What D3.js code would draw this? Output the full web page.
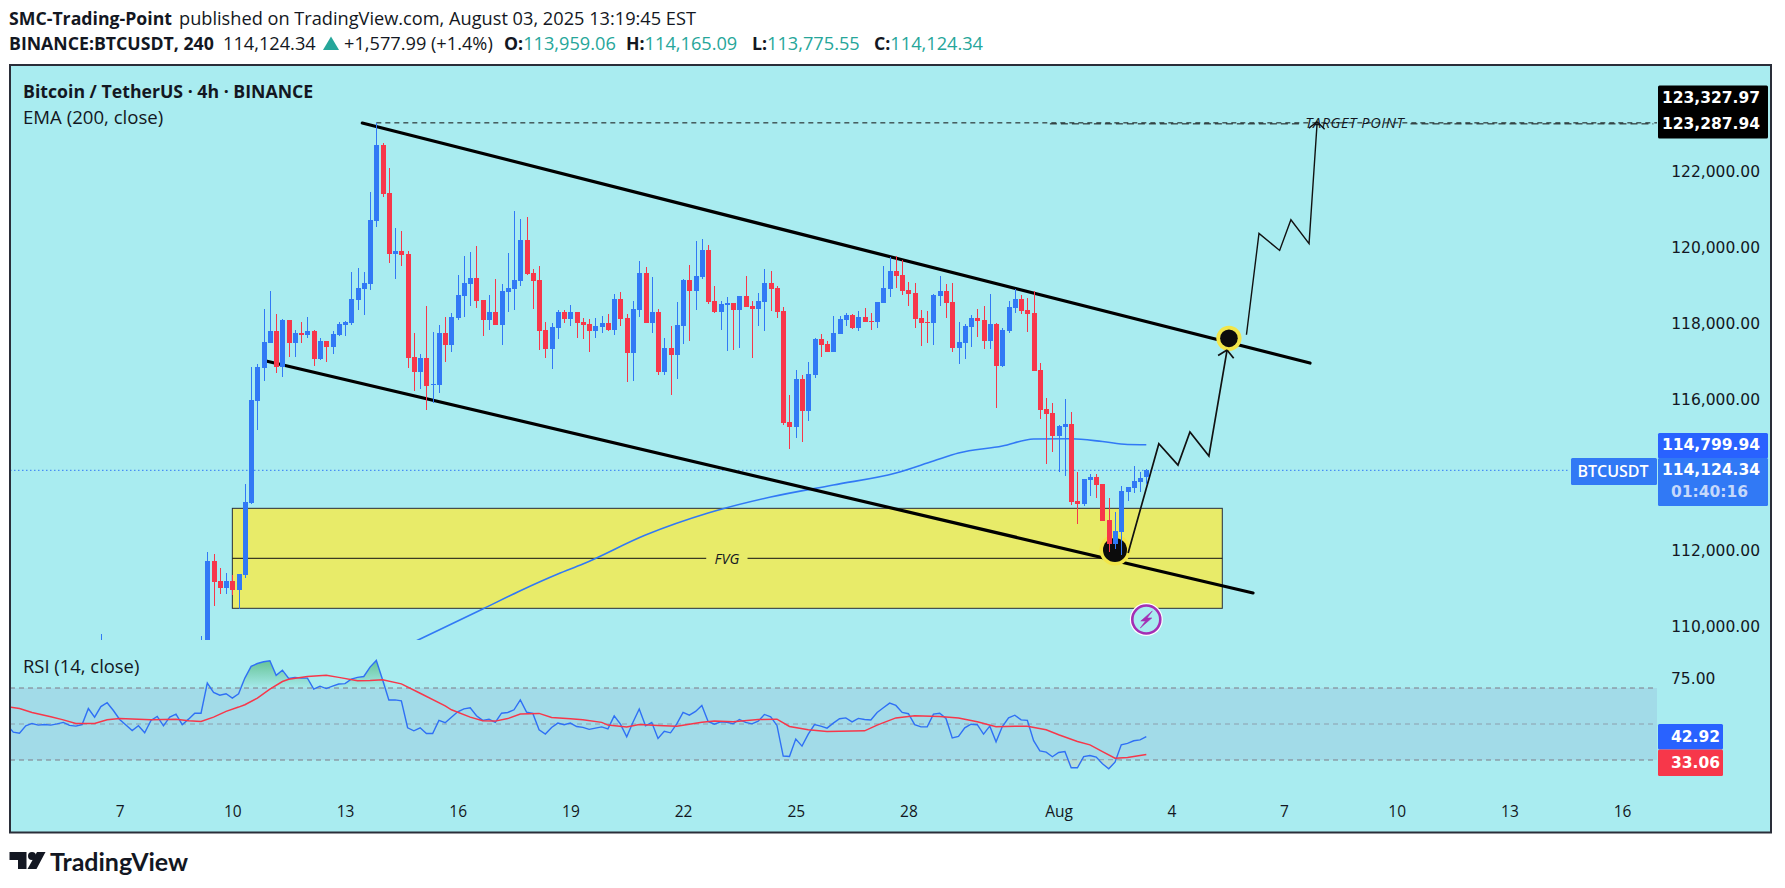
<!DOCTYPE html>
<html>
<head>
<meta charset="utf-8">
<title>BTCUSDT 4h</title>
<script src="https://cdn.jsdelivr.net/npm/d3@7"></script>
<style>
  html, body { margin: 0; padding: 0; background: #fff; overflow: hidden; }
  svg { display: block; }
  text { font-family: "Open Sans", "Noto Sans", sans-serif; fill: #131722; }
  .axis text { font-family: "DejaVu Sans", sans-serif; }
  .axis path, .axis line { display: none; }
</style>
</head>
<body>
<svg id="chart" width="1785" height="888"></svg>
<script>
// ─── Data: candles, one entry per 4h bar ──────────────────────────────────────
const opens = [
  109120,111730,111200,111020,111200,110970,111360,113260,115950,116820,
  117480,117800,116850,118090,117480,117750,117690,117800,117060,117530,
  117380,117690,117960,118010,118620,118900,119040,120700,122700,121440,
  119830,119910,119830,117110,116720,117090,116370,116370,117750,117430,
  118140,118720,119040,119200,118620,118090,118300,117960,118830,118900,
  119120,120200,119330,119140,117820,117320,117880,118300,118110,118300,
  118040,117980,117800,117900,118010,117820,118640,118140,117220,118350,
  119330,118010,118300,116720,117350,117170,117930,119140,118850,119220,
  119930,118590,118300,118480,118540,118350,118720,118460,118380,118560,
  119060,118930,118330,115400,115270,116530,115690,116640,117590,117450,
  117240,117720,118090,118220,117880,118170,118060,118040,118540,118900,
  119380,119270,118880,118800,118140,118040,118010,118720,118850,118560,
  117350,117480,117900,118140,118090,117530,117980,116880,117800,118400,
  118640,118350,118270,116770,115740,115640,115030,115270,115350,113320,
  113240,113870,113950,113760,112810,112180,112500,113550,113660,113820,
  113959.06
];
const highs = [
  111970,111920,111550,111420,111360,111390,113760,116850,116930,118380,
  118850,118250,118110,118090,117820,118040,118170,117820,117610,117530,
  117800,118040,118060,119350,119460,119350,121460,123288,122760,122100,
  120510,120430,119910,117750,117190,118460,117770,117960,118170,118270,
  119270,119780,119880,120040,118620,118750,119170,119040,119850,120960,
  120750,120800,119430,119510,118040,118010,118350,118350,118480,118300,
  118140,118110,118140,118190,118250,118770,118830,118250,118590,119640,
  119490,119220,118380,117610,117930,118560,119170,119540,120170,120220,
  120070,118980,118590,118690,118540,118720,119250,118590,118800,119430,
  119380,118980,118430,116110,116770,116640,116980,117610,117720,117530,
  118190,118190,118270,118250,118330,118400,118270,118560,119510,119750,
  119780,119670,119090,119060,118350,118330,118770,119250,119040,119060,
  118040,117980,118220,118380,118460,118770,118010,117880,118590,118910,
  118750,118670,118850,116950,116030,115900,115320,116010,115660,114080,
  113900,114030,114030,113760,113390,113030,113710,113680,114240,114080,
  114165.09
];
const lows = [
  108990,110540,110860,110860,110840,110480,111280,113240,115190,116480,
  117480,116690,116580,117110,117110,117480,117610,116870,117030,116980,
  117190,117670,117670,117960,118350,118220,118880,120540,121330,119590,
  119170,119510,116820,116220,116270,115710,115900,116160,116980,117240,
  118090,118170,118460,118400,117670,117820,117960,117430,118300,118350,
  118980,119270,118380,117300,117090,116800,117590,118010,117930,117610,
  117590,117240,117610,117750,117800,117690,117930,116450,116480,118170,
  118010,117750,116640,116640,116110,116530,117460,117530,118350,119170,
  118510,118270,117820,117270,117300,117350,118430,117090,117930,117800,
  118330,118140,115320,114690,114980,114870,115420,116560,117110,117240,
  117240,117720,117930,117850,117800,118040,117820,117880,118540,118690,
  118930,118750,118460,117880,117400,117480,117430,118460,118140,117240,
  116930,117060,117380,117640,117320,117320,115770,116850,117750,118270,
  118250,117770,116740,115480,114290,114610,114080,113970,113210,112710,
  113180,113450,113390,112790,111970,112050,111890,113320,113530,113550,
  113775.55
];
const closes = [
  111730,111180,111020,111200,110970,111390,113290,115980,116850,117510,
  117800,116850,118090,117480,117750,117690,117800,117060,117530,117380,
  117720,117980,118040,118640,118930,119060,120730,122700,121410,119830,
  119910,119800,117090,116720,117090,116350,116400,117750,117430,118170,
  118750,119060,119200,118590,118090,118300,117960,118850,118930,119140,
  120200,119300,119120,117800,117320,117900,118300,118110,118300,118010,
  117960,117800,117930,118010,117820,118640,118110,117220,118380,119330,
  118010,118300,116720,117350,117170,117960,119140,118850,119250,119930,
  118560,118300,118510,118540,118350,118720,118430,118380,118590,119060,
  118900,118300,115370,115270,116530,115690,116660,117590,117430,117240,
  117750,118110,118220,117880,118170,118040,118040,118560,118930,119380,
  119250,118850,118770,118110,118010,118010,118750,118850,118540,117350,
  117510,117930,118140,118060,117530,117980,116880,117820,118430,118640,
  118330,118250,116740,115720,115610,115030,115290,115350,113290,113240,
  113900,113950,113740,112790,112180,112520,113580,113680,113840,113920,
  114124.34
];

// Bars that only poke their upper wick into the bottom of the price pane
const stubBars  = [-17,-1];
const stubHighs = [109800,109755];

// EMA(200): bar index / price pairs
const emaBars   = [30,34,44,50,56,60,70,80,90,100,110,116,120,127,132,138,143,147,150];
const emaPrices = [109360,109676,110467,110949,111390,111653,112418,112998,113420,113737,114054,114370,114580,114765,114950,114958,114884,114805,114799.94];

// RSI(14): the first value belongs to bar -32, the pane shows bars the price pane has scrolled past
const rsiFirstBar = -32;
const rsiValues = [
  49.6,45.5,44.9,49.0,50.3,49.4,49.7,49.4,50.1,50.9,49.2,48.8,49.7,58.6,53.8,59.7,61.8,57.5,52.5,49.4,
  46.4,49.0,45.1,52.0,54.2,49.0,53.8,55.5,49.6,52.7,56.0,56.0,
  72.7,67.5,66.0,66.8,64.4,66.8,75.5,82.0,83.6,84.6,85.1,77.0,79.9,75.3,75.9,75.5,75.5,69.4,71.0,69.7,
  71.0,72.2,72.4,74.9,75.9,76.4,81.6,85.3,74.6,63.3,63.4,62.9,47.9,46.2,47.9,44.7,44.7,52.0,50.7,53.8,
  56.8,58.4,59.0,54.6,52.0,52.7,50.9,56.0,56.4,57.9,63.4,56.6,55.9,46.8,44.4,48.1,50.5,49.6,50.5,48.6,
  48.1,47.0,47.7,48.4,47.3,54.5,49.9,42.9,51.0,58.3,49.0,50.8,42.0,45.9,45.1,50.1,56.4,54.9,57.0,60.3,
  51.4,49.9,51.2,51.0,50.1,52.5,50.9,50.1,51.6,55.3,54.0,49.2,32.2,32.0,41.6,37.7,44.4,49.7,48.8,47.7,
  50.5,52.9,53.4,51.2,53.1,52.5,52.2,56.4,59.0,61.6,60.3,56.4,55.7,49.6,48.4,48.4,55.5,56.0,53.1,42.3,
  43.1,47.9,49.9,49.6,44.4,48.8,40.1,48.6,53.4,54.9,52.3,52.0,40.7,35.1,34.4,31.8,34.2,34.7,25.7,25.7,
  31.9,32.5,31.6,27.9,25.1,28.8,38.4,39.2,40.7,41.2,42.92
];
// RSI moving average: bar index / value pairs
const rsiMaBars = [-32,-30,-28,-25,-23,-21,-18,-16,-14,-11,-9,-5,-3,-1,1,3,5,6,8,10,12,13,16,19,21,24,26,28,31,34,38,39,42,44,46,48,50,53,55,58,60,63,64,67,69,72,75,79,81,84,88,91,93,96,99,105,107,110,113,117,120,123,126,129,131,134,136,139,141,143,145,147,150];
const rsiMaVals = [59.6,58.6,56.4,54,52.3,50.3,50.3,52.3,53.1,52.7,52.3,52.7,51.8,51.4,53.8,57,59.4,60.7,64.4,69.4,73.6,74.9,76.4,77.1,75.9,74,74.2,74.6,72.3,67.1,60.1,57.9,53.8,51.8,51.6,53,55.5,55.9,53.6,52.9,52.3,50.9,49.4,48.4,49.7,49.2,48.8,51,51.6,51.2,52.5,52.7,48.6,46.8,45.9,46.2,49.4,53.4,54.6,54.2,53.3,51.2,48.5,48.8,48.7,46.8,44,40.3,38.4,34.7,31,31.4,33.06];

// Price axis and time axis labels
const priceTicks = [110000,112000,116000,118000,120000,122000];
const timeTickBars = [-14,4,22,40,58,76,94,112,136,154,172,190,208,226];
const timeTickLabels = ["7","10","13","16","19","22","25","28","Aug","4","7","10","13","16"];

// Drawings on the chart, as bar index / price pairs
const channelUpper = [[24.76,123283],[176.15,116954]];
const channelLower = [[9.38,117006],[167.05,110889]];
const projectionFirst  = [[147.1,111943],[152,114826],[155.06,114264],[156.97,115134],[160,114501],[162.9,117297]];
const projectionSecond = [[166,117700],[168,120371],[171.3,119923],[173.1,120733],[176,120102],[177.3,123317]];
const dotLower = [145,112022];
const dotUpper = [163.2,117605];
const fvgBars = [4,162.14];
const fvgPrices = [113122,111804,110485];
const targetPrice = 123287.94;
const lastPrice = 114124.34;
const emaLast = 114799.94;
const rsiLast = 42.92;
const rsiMaLast = 33.06;
const rsiLevels = [70,50,30];

// ─── Configuration ────────────────────────────────────────────────────────────
const CONFIG = {
  frame: { left: 10, top: 65, right: 1771, bottom: 832.5 },
  pricePaneBottom: 640,
  axisLeft: 1657,
  labelRight: 1760,
  colors: {
    pane: "#a9ecf0",
    border: "#2a2e39",
    up: "#3179f5",
    down: "#f7374a",
    accent: "#2962ff",
    band: "#a2dbe8",
    fvg: "#e8eb69",
    teal: "#26a69a",
    dash: "#7e7a86",
    ring: "#f2e64a",
    bolt: "#a32fb4"
  }
};
const C = CONFIG.colors;

// ─── Scales ───────────────────────────────────────────────────────────────────
const x = d3.scaleLinear().domain([0, 150]).range([207.3, 1146.3]);
const y = d3.scaleLinear().domain([110000, 122000]).range([626.7, 171.7]);
const yRsi = d3.scaleLinear().domain([30, 70]).range([760, 688]);

const svg = d3.select("#chart");
const defs = svg.append("defs");

// ─── Small helpers ────────────────────────────────────────────────────────────
function label(parent, px, py, str, opts = {}) {
  return parent.append("text")
    .attr("x", px).attr("y", py)
    .attr("text-anchor", opts.anchor || "start")
    .attr("dominant-baseline", "central")
    .style("font-size", `${opts.size || 15.5}px`)
    .style("font-weight", opts.weight || 400)
    .style("font-style", opts.italic ? "italic" : null)
    .style("font-family", opts.family || null)
    .style("letter-spacing", opts.spacing || null)
    .style("fill", opts.fill || null)
    .text(str);
}

function priceBox(px, top, w, h, color, radius = 1.5) {
  svg.append("rect")
    .attr("x", px).attr("y", top)
    .attr("width", w).attr("height", h)
    .attr("rx", radius)
    .attr("fill", color);
}

const pointLine = d3.line().x(d => x(d[0])).y(d => y(d[1]));

// ─── Header above the chart ───────────────────────────────────────────────────
label(svg, 9, 18, "SMC-Trading-Point", { size: 17.7, weight: 700 });
label(svg, 179, 18, "published on TradingView.com, August 03, 2025 13:19:45 EST", { size: 18.2 });

label(svg, 9, 43, "BINANCE:BTCUSDT, 240", { size: 17.7, weight: 700 });
label(svg, 223, 43, "114,124.34", { size: 18.2 });
svg.append("path").attr("d", "M331,36.5 L339,50 H323 Z").attr("fill", C.teal);
label(svg, 344, 43, "+1,577.99 (+1.4%)", { size: 18.2 });
[["O:", "113,959.06", 504], ["H:", "114,165.09", 626], ["L:", "113,775.55", 752], ["C:", "114,124.34", 874]]
  .forEach(([key, val, px]) => {
    const t = label(svg, px, 43, key, { size: 17.7, weight: 700 });
    t.append("tspan").style("font-weight", 400).style("font-size", "18.2px").style("fill", C.teal).text(val);
  });

// ─── Frame ────────────────────────────────────────────────────────────────────
const F = CONFIG.frame;
svg.append("rect")
  .attr("x", F.left).attr("y", F.top)
  .attr("width", F.right - F.left).attr("height", F.bottom - F.top)
  .attr("fill", C.pane).attr("stroke", C.border).attr("stroke-width", 2);

defs.append("clipPath").attr("id", "price-clip").append("rect")
  .attr("x", F.left + 1).attr("y", F.top + 1)
  .attr("width", CONFIG.axisLeft - F.left).attr("height", CONFIG.pricePaneBottom - F.top - 1);
defs.append("clipPath").attr("id", "rsi-clip").append("rect")
  .attr("x", F.left + 1).attr("y", CONFIG.pricePaneBottom)
  .attr("width", CONFIG.axisLeft - F.left).attr("height", 150);

// ─── Price pane ───────────────────────────────────────────────────────────────
const pricePane = svg.append("g").attr("clip-path", "url(#price-clip)");

// FVG zone
pricePane.append("rect")
  .attr("x", x(fvgBars[0])).attr("y", y(fvgPrices[0]))
  .attr("width", x(fvgBars[1]) - x(fvgBars[0]))
  .attr("height", y(fvgPrices[2]) - y(fvgPrices[0]))
  .attr("fill", C.fvg).attr("stroke", C.border).attr("stroke-width", 1);
[[fvgBars[0], 79.7], [86.3, fvgBars[1]]].forEach(([from, to]) => {
  pricePane.append("line")
    .attr("x1", x(from)).attr("x2", x(to))
    .attr("y1", y(fvgPrices[1])).attr("y2", y(fvgPrices[1]))
    .attr("stroke", "#111").attr("stroke-width", 1);
});
label(pricePane, x(83), y(fvgPrices[1]), "FVG", { anchor: "middle", size: 14.5, italic: true });

// EMA
pricePane.append("path")
  .datum(emaBars.map((b, i) => [b, emaPrices[i]]))
  .attr("d", d3.line().curve(d3.curveMonotoneX).x(d => x(d[0])).y(d => y(d[1])))
  .attr("fill", "none").attr("stroke", C.up).attr("stroke-width", 1.6);

// Last price line
pricePane.append("line")
  .attr("x1", F.left).attr("x2", 1570)
  .attr("y1", y(lastPrice)).attr("y2", y(lastPrice))
  .attr("stroke", C.up).attr("stroke-width", 1).attr("stroke-dasharray", "1.5,2.5");

// Target line and text
pricePane.append("line")
  .attr("x1", x(27)).attr("x2", CONFIG.axisLeft)
  .attr("y1", y(targetPrice)).attr("y2", y(targetPrice))
  .attr("stroke", "#111").attr("stroke-width", 1).attr("stroke-dasharray", "5,4");
[[134.6, 174.4], [192.2, 231]].forEach(([from, to]) => {
  pricePane.append("line")
    .attr("x1", x(from)).attr("x2", x(to))
    .attr("y1", y(targetPrice) + 1).attr("y2", y(targetPrice) + 1)
    .attr("stroke", "#111").attr("stroke-width", 1).attr("stroke-dasharray", "7,4");
});
label(pricePane, x(183.3), y(targetPrice), "TARGET POINT", { anchor: "middle", size: 14.5, italic: true, spacing: "0.6px", weight: 500 });

// Channel
[channelUpper, channelLower].forEach(seg => {
  pricePane.append("path").datum(seg).attr("d", pointLine)
    .attr("fill", "none").attr("stroke", "#000")
    .attr("stroke-width", 3.2).attr("stroke-linecap", "round");
});

// Marker dots
[[dotLower, 12, 15.5], [dotUpper, 8.8, 12.6]].forEach(([d, inner, outer]) => {
  pricePane.append("circle").attr("cx", x(d[0])).attr("cy", y(d[1])).attr("r", outer).attr("fill", C.ring);
  pricePane.append("circle").attr("cx", x(d[0])).attr("cy", y(d[1])).attr("r", inner).attr("fill", "#0c0c0c");
});

// Projection lines with open arrow heads
function projection(points, width) {
  pricePane.append("path").datum(points).attr("d", pointLine)
    .attr("fill", "none").attr("stroke", "#111").attr("stroke-width", width)
    .attr("stroke-linejoin", "miter");
  const [a, b] = points.slice(-2);
  const angle = Math.atan2(y(a[1]) - y(b[1]), x(a[0]) - x(b[0]));
  [-0.85, 0.85].forEach(turn => {
    pricePane.append("line")
      .attr("x1", x(b[0])).attr("y1", y(b[1]))
      .attr("x2", x(b[0]) + 10.5 * Math.cos(angle + turn))
      .attr("y2", y(b[1]) + 10.5 * Math.sin(angle + turn))
      .attr("stroke", "#111").attr("stroke-width", width);
  });
}
projection(projectionFirst, 1.7);
projection(projectionSecond, 1.4);

// Candles
const bars = d3.range(closes.length);
const snap = v => Math.round(v);
const candles = pricePane.append("g").attr("shape-rendering", "crispEdges")
  .selectAll("g").data(bars).join("g")
  .attr("fill", i => closes[i] >= opens[i] ? C.up : C.down);
candles.append("rect")
  .attr("x", i => snap(x(i)))
  .attr("width", 1)
  .attr("y", i => y(highs[i]))
  .attr("height", i => y(lows[i]) - y(highs[i]));
candles.append("rect")
  .attr("x", i => snap(x(i)) - 2)
  .attr("width", 5)
  .attr("y", i => y(Math.max(opens[i], closes[i])))
  .attr("height", i => Math.max(1, Math.abs(y(opens[i]) - y(closes[i]))));

// Wick stubs at the lower edge of the pane
pricePane.append("g").attr("shape-rendering", "crispEdges")
  .selectAll("rect").data(stubBars).join("rect")
  .attr("x", d => snap(x(d))).attr("width", 1)
  .attr("y", (d, i) => y(stubHighs[i])).attr("height", 12)
  .attr("fill", C.up);

// Bolt marker below the last candle
const bolt = pricePane.append("g")
  .attr("transform", `translate(${x(150)},${y(110190)})`);
bolt.append("circle").attr("r", 16.5).attr("fill", "#fff");
bolt.append("circle").attr("r", 14).attr("fill", C.pane).attr("stroke", C.bolt).attr("stroke-width", 2.6);
bolt.append("path").attr("d", "M6,-8.5 L-5.5,1.5 L-0.8,1.5 L-6,8.5 L5.5,-1.5 L0.8,-1.5 Z")
  .attr("fill", C.bolt).attr("stroke", C.bolt).attr("stroke-width", 0.6);

// ─── RSI pane ─────────────────────────────────────────────────────────────────
const rsiPane = svg.append("g").attr("clip-path", "url(#rsi-clip)");
const rsiPoints = rsiValues.map((v, i) => [rsiFirstBar + i, v]);

rsiPane.append("rect")
  .attr("x", F.left).attr("y", yRsi(70))
  .attr("width", CONFIG.axisLeft - F.left).attr("height", yRsi(30) - yRsi(70))
  .attr("fill", C.band);

rsiLevels.forEach(level => {
  rsiPane.append("line")
    .attr("x1", F.left).attr("x2", CONFIG.axisLeft)
    .attr("y1", yRsi(level)).attr("y2", yRsi(level))
    .attr("stroke", C.dash).attr("stroke-width", 1)
    .attr("stroke-opacity", level === 50 ? 0.6 : 1)
    .attr("stroke-dasharray", "5,4");
});

// Overbought / oversold fills
const obGrad = defs.append("linearGradient").attr("id", "ob-grad")
  .attr("x1", 0).attr("x2", 0).attr("y1", 0).attr("y2", 1)
  .attr("gradientUnits", "objectBoundingBox");
obGrad.append("stop").attr("offset", "0%").attr("stop-color", "#63c191").attr("stop-opacity", 0.95);
obGrad.append("stop").attr("offset", "100%").attr("stop-color", "#63c191").attr("stop-opacity", 0.05);
rsiPane.append("path")
  .datum(rsiPoints)
  .attr("d", d3.area().x(d => x(d[0])).y0(yRsi(70)).y1(d => yRsi(Math.max(d[1], 70))))
  .attr("fill", "url(#ob-grad)");
rsiPane.append("path")
  .datum(rsiPoints)
  .attr("d", d3.area().x(d => x(d[0])).y0(yRsi(30)).y1(d => yRsi(Math.min(d[1], 30))))
  .attr("fill", "#bcd9cf").attr("fill-opacity", 0.7);

const rsiLine = d3.line().x(d => x(d[0])).y(d => yRsi(d[1]));
rsiPane.append("path").datum(rsiPoints).attr("d", rsiLine)
  .attr("fill", "none").attr("stroke", "#2f70f5").attr("stroke-width", 1.4);
rsiPane.append("path").datum(rsiMaBars.map((b, i) => [b, rsiMaVals[i]])).attr("d", rsiLine)
  .attr("fill", "none").attr("stroke", C.down).attr("stroke-width", 1.5);

// ─── Pane captions ────────────────────────────────────────────────────────────
label(svg, 23, 91, "Bitcoin / TetherUS · 4h · BINANCE", { size: 17.7, weight: 700 });
label(svg, 23, 116, "EMA (200, close)", { size: 18.6 });
label(svg, 23, 665.5, "RSI (14, close)", { size: 18.4 });

// ─── Axes ─────────────────────────────────────────────────────────────────────
svg.append("g")
  .attr("class", "axis")
  .attr("transform", `translate(${CONFIG.labelRight},0)`)
  .call(d3.axisLeft(y).tickValues(priceTicks).tickSize(0).tickPadding(0).tickFormat(d3.format(",.2f")))
  .selectAll("text").style("font-size", "15.5px").style("fill", "#131722");

svg.append("g")
  .attr("class", "axis")
  .attr("transform", "translate(0,806)")
  .call(d3.axisBottom(x).tickValues(timeTickBars).tickSize(0).tickPadding(0)
    .tickFormat((d, i) => timeTickLabels[i]))
  .selectAll("text").style("font-size", "15.5px").style("font-family", "\"Open Sans\", sans-serif");

label(svg, 1671, yRsi(75), "75.00", { size: 15.5, family: "DejaVu Sans" });

// ─── Price labels ─────────────────────────────────────────────────────────────
const tagFont = { anchor: "end", size: 15.5, fill: "#fff", weight: 600, family: "DejaVu Sans" };
priceBox(1658, 85.5, 110, 53, "#000");
label(svg, 1760, 98, "123,327.97", tagFont);
label(svg, 1760, 124, d3.format(",.2f")(targetPrice), tagFont);

priceBox(1658, 433, 110, 25.5, C.accent);
label(svg, 1760, y(emaLast), d3.format(",.2f")(emaLast), tagFont);

priceBox(1571, 458, 86, 27, C.up);
label(svg, 1613, y(lastPrice) + 1, "BTCUSDT", { anchor: "middle", size: 16, fill: "#fff", weight: 600 });
priceBox(1658, 458, 110, 48, C.up);
label(svg, 1760, y(lastPrice), d3.format(",.2f")(lastPrice), tagFont);
label(svg, 1671, 491.5, "01:40:16", { size: 15.5, fill: "#c5d8fb", weight: 600, family: "DejaVu Sans" });

priceBox(1658, 724, 65, 25.5, C.accent);
label(svg, 1671, yRsi(rsiLast), d3.format(".2f")(rsiLast), { ...tagFont, anchor: "start" });
priceBox(1658, 749.5, 65, 26.5, C.down);
label(svg, 1671, 762.5, d3.format(".2f")(rsiMaLast), { ...tagFont, anchor: "start" });

// ─── TradingView logo ─────────────────────────────────────────────────────────
const logo = svg.append("g").attr("fill", "#131722");
logo.append("path").attr("d", "M9.5,852 H26.5 V869 H18 V860 H9.5 Z");
logo.append("circle").attr("cx", 32).attr("cy", 856).attr("r", 4);
logo.append("path").attr("d", "M37,852 H45.5 L36.5,869 H27.5 Z");
label(svg, 50, 860.5, "TradingView", { size: 25, weight: 700, family: "Lato, sans-serif" });
</script>
</body>
</html>
